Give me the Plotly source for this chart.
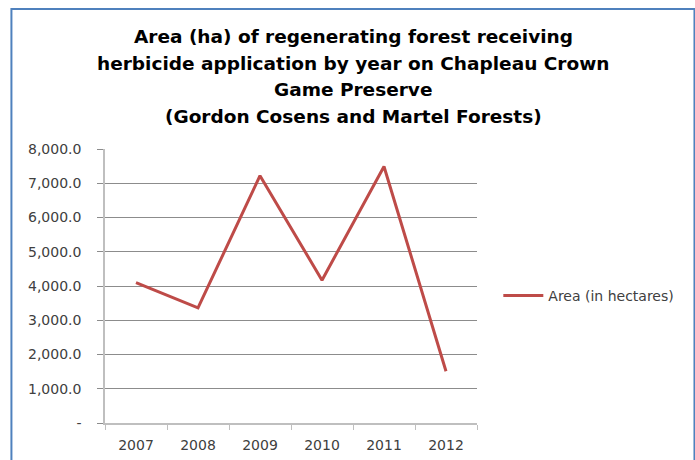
import plotly.graph_objects as go

years = ["2007", "2008", "2009", "2010", "2011", "2012"]
area_ha = [4100, 3360, 7220, 4170, 7490, 1510]
y_tickvals = [0, 1000, 2000, 3000, 4000, 5000, 6000, 7000, 8000]
y_ticktext = ["-", "1,000.0", "2,000.0", "3,000.0", "4,000.0", "5,000.0",
              "6,000.0", "7,000.0", "8,000.0"]
series_name = "Area (in hectares)"
title_lines = ["Area (ha) of regenerating forest receiving",
               "herbicide application by year on Chapleau Crown",
               "Game Preserve",
               "(Gordon Cosens and Martel Forests)"]

W, H = 695, 460
L, R, T, B = 105, 476.7, 149.3, 422.7
pw, ph = R - L, B - T

def px(x):
    return (x - L) / pw

def py(y):
    return (B - y) / ph

TXT = "#404040"
fig = go.Figure()
fig.add_trace(go.Scatter(
    x=years, y=area_ha, mode="lines", name=series_name,
    line=dict(color="#be4b48", width=3),
))

title_centers = [37, 63.7, 90.4, 117]
annotations = []
for line, yc in zip(title_lines, title_centers):
    annotations.append(dict(
        text="<b>" + line + "</b>", xref="paper", yref="paper",
        x=px(353), y=py(yc), xanchor="center", yanchor="middle",
        showarrow=False,
        font=dict(family="DejaVu Sans", size=18.5, color="black"),
    ))

fig.update_layout(
    width=W, height=H,
    margin=dict(l=L, r=W - R, t=T, b=H - B),
    paper_bgcolor="white", plot_bgcolor="white",
    font=dict(family="DejaVu Sans", size=14, color=TXT),
    annotations=annotations,
    showlegend=True,
    legend=dict(x=px(498), y=py(296), xanchor="left", yanchor="middle",
                font=dict(family="DejaVu Sans", size=14, color=TXT),
                bgcolor="rgba(0,0,0,0)", itemwidth=40),
    xaxis=dict(type="category", range=[-0.5, 5.5], showgrid=False,
               showline=True, linecolor="#bfbfbf", linewidth=1.5,
               ticks="outside", tickson="boundaries", ticklen=5,
               tickcolor="#bfbfbf", ticklabelstandoff=8, zeroline=False,
               automargin=False),
    yaxis=dict(range=[0, 8000], tickvals=y_tickvals, ticktext=y_ticktext,
               showgrid=True, gridcolor="#8c8c8c", gridwidth=1,
               showline=True, linecolor="#bfbfbf", linewidth=1.5,
               ticks="outside", ticklen=6, tickcolor="#8c8c8c",
               ticklabelstandoff=13, zeroline=False, automargin=False),
    shapes=[dict(type="rect", xref="paper", yref="paper",
                 x0=px(11.5), x1=px(694), y0=py(520), y1=py(9.5),
                 line=dict(color="#4f81bd", width=2), layer="above")],
)

fig.write_html("out.html")
